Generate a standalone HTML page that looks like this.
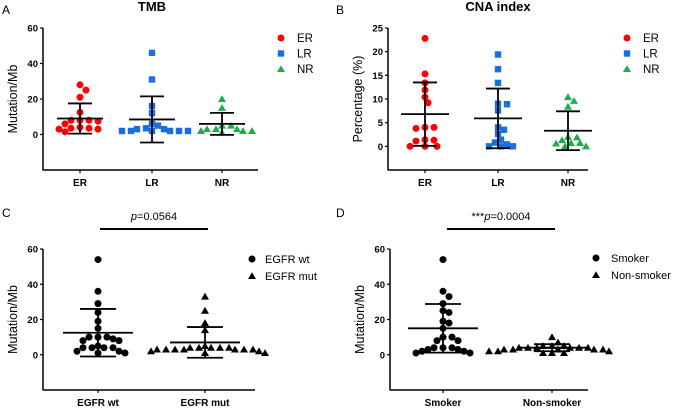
<!DOCTYPE html>
<html><head><meta charset="utf-8">
<style>
html,body{margin:0;padding:0;background:#fff;}
svg{display:block;font-family:"Liberation Sans",sans-serif;}
</style></head>
<body>
<svg id="fig" width="675" height="408" viewBox="0 0 675 408"></svg>
<script>
// Panel A: TMB
const aCategories=["ER","LR","NR"];
const aER=[28,25,21,12.5,8,7.5,8,8,4,3,3,3.5,6,1.5,3.5];
const aLR=[46,31,16,12,2,2,3,2,5,3,2,2,2,3.5,6];
const aNR=[20,15,3,3,2,2,1,2,5,3,5];
const aMeans=[9,8.5,6];
const aSD=[8.5,13,6.2];
const aTicks=[0,20,40,60];
// Panel B: CNA index
const bCategories=["ER","LR","NR"];
const bER=[22.8,15.3,13.4,11.9,10.4,9.2,4,3.8,4,1.3,0,0,0,1.1,1.4];
const bLR=[19.4,16.3,13.4,9,8.9,7.6,3.5,4,2.6,0.8,0,0,0,0.4,1.4];
const bNR=[10.4,9.6,8.4,2,1.9,0.7,0.6,0,0,0.7,1.3];
const bMeans=[6.8,5.9,3.3];
const bSD=[6.7,6.3,4.1];
const bTicks=[0,5,10,15,20,25];
// Panel C: EGFR
const cCategories=["EGFR wt","EGFR mut"];
const cWT=[54,36,29,24,19,15,10,9,8,8,10,10,4,4,2,2,1,1,4,4,5];
const cMUT=[33,25,18,14,5,4,4,4,3,3,3,3,2,2,1,1,3,3,3,4,4];
const cMeans=[12.5,7];
const cSD=[13.5,8.7];
const cTicks=[0,20,40,60];
// Panel D: Smoking
const dCategories=["Smoker","Non-smoker"];
const dSMK=[54,36,33,29,24,25,19,18,15,10,10,8,8,4,4,3,3,2,2,1,1,4];
const dNON=[10,7,5,5,4,4,4,4,3,3,3,2,2,2,1,1,1,3,3,4,4,5];
const dMeans=[15,4];
const dSD=[13.8,2];
const dTicks=[0,20,40,60];

const NS="http://www.w3.org/2000/svg";
const svg=document.getElementById('fig');
function mk(tag,attrs,parent,text){const e=document.createElementNS(NS,tag);for(const k in attrs)e.setAttribute(k,attrs[k]);if(text!==undefined)e.textContent=text;(parent||svg).appendChild(e);return e;}

function marker(g,shape,x,y,color){
  let e;
  if(shape==='circle'){e=mk('circle',{cx:x,cy:y,r:3.5,fill:color},g);}
  else if(shape==='square'){e=mk('rect',{x:x-3.2,y:y-3.2,width:6.4,height:6.4,fill:color},g);}
  else {e=mk('polygon',{points:`${x},${y-3.8} ${x+4},${y+3} ${x-4},${y+3}`,fill:color},g);}
  return e;
}

function swarm(vals,yf,cx,shape,color,g){
  const placed=[];
  const sorted=vals.slice().sort((a,b)=>b-a);
  const cands=[0];
  for(let k=1;k<40;k++){cands.push(k*3);cands.push(-k*3);}
  sorted.forEach(v=>{
    const y=yf(v);
    let dx=0;
    for(const c of cands){
      if(placed.every(p=>Math.hypot(p[0]-c,p[1]-y)>=6.2)){dx=c;break;}
    }
    placed.push([dx,y]);
    const m=marker(g,shape,cx+dx,y,color);
    
    
  });
}

function panel(o){
  const g=mk('g',{});
  const yf=v=>o.y0-(v-o.min)/(o.max-o.min)*(o.y0-o.yTop);
  const ya=mk('line',{x1:o.ax,y1:yf(o.max),x2:o.ax,y2:o.y0+0.5,stroke:'#000','stroke-width':1.5},g);
  
  const xa=mk('line',{x1:o.ax,y1:o.y0,x2:o.axEnd,y2:o.y0,stroke:'#000','stroke-width':1.5},g);
  
  o.ticks.forEach(t=>{
    const y=yf(t);
    mk('line',{x1:o.ax-3,y1:y,x2:o.ax,y2:y,stroke:'#000','stroke-width':1.2},g);
    const tl=mk('text',{x:o.ax-5,y:y+3.5,'text-anchor':'end','font-size':9.5,'font-weight':'bold'},g,t);
    
  });
  const yc=(yf(o.max)+o.y0)/2;
  const yt=mk('text',{x:0,y:0,transform:`translate(${o.ax-o.titleOff},${yc}) rotate(-90)`,'text-anchor':'middle','font-size':12.5},g,o.ytitle);
  
  o.cats.forEach((c,i)=>{
    const x=o.cx[i];
    mk('line',{x1:x,y1:o.y0,x2:x,y2:o.y0+3,stroke:'#000','stroke-width':1.2},g);
    const cl=mk('text',{x:x,y:o.y0+16,'text-anchor':'middle','font-size':10,'font-weight':'bold'},g,c);
    
    swarm(o.series[i],yf,x,o.shapes[i],o.colors[i],g);
    const m=o.means[i],s=o.sds[i];
    const eb=mk('g',{},g);
    
    mk('line',{x1:x-o.mw,y1:yf(m),x2:x+o.mw,y2:yf(m),stroke:'#000','stroke-width':1.8},eb);
    mk('line',{x1:x,y1:yf(m-s),x2:x,y2:yf(m+s),stroke:'#000','stroke-width':1.8},eb);
    mk('line',{x1:x-o.cw,y1:yf(m+s),x2:x+o.cw,y2:yf(m+s),stroke:'#000','stroke-width':1.8},eb);
    mk('line',{x1:x-o.cw,y1:yf(m-s),x2:x+o.cw,y2:yf(m-s),stroke:'#000','stroke-width':1.8},eb);
  });
  o.cats.forEach((c,i)=>{
    const y=o.legY+i*o.legStep;
    const lg=mk('g',{},g);
    
    marker(lg,o.shapes[i],o.legX,y,o.colors[i]);
    mk('text',{x:o.legX+o.legTx,y:y+4,'font-size':o.legFs||11.5},lg,c);
  });
  const pl=mk('text',{x:o.letterX,y:o.letterY,'font-size':12},g,o.letter);
  
  if(o.title){const t=mk('text',{x:o.titleX,y:11,'text-anchor':'middle','font-size':13,'font-weight':'bold'},g,o.title);}
  if(o.pText){
    const pg=mk('g',{},g);
    mk('line',{x1:o.pX1,y1:229,x2:o.pX2,y2:229,stroke:'#000','stroke-width':2},pg);
    const t=mk('text',{x:(o.pX1+o.pX2)/2,y:220,'text-anchor':'middle','font-size':11},pg);
    mk('tspan',{},t,o.pStars||'');
    mk('tspan',{'font-style':'italic'},t,'p');
    mk('tspan',{},t,o.pText);
  }
}

panel({name:'panel-a-tmb',letter:'A',letterX:2,letterY:14,title:'TMB',titleX:152,ax:43,axEnd:258,y0:170,yTop:28,min:-20,max:60,ticks:aTicks,ytitle:'Mutation/Mb',titleOff:26,
  cats:aCategories,cx:[80,152,222],series:[aER,aLR,aNR],means:aMeans,sds:aSD,shapes:['circle','square','tri'],colors:['#ff0000','#1a6fdf','#17b04a'],mw:23,cw:12,legX:281,legY:38,legStep:15.5,legTx:16});
panel({name:'panel-b-cna',letter:'B',letterX:336,letterY:14,title:'CNA index',titleX:498,ax:388,axEnd:588,y0:170,yTop:28,min:-5,max:25,ticks:bTicks,ytitle:'Percentage (%)',titleOff:26,
  cats:bCategories,cx:[425,498,568],series:[bER,bLR,bNR],means:bMeans,sds:bSD,shapes:['circle','square','tri'],colors:['#ff0000','#1a6fdf','#17b04a'],mw:24,cw:12,legX:627,legY:38,legStep:15.5,legTx:16});
panel({name:'panel-c-egfr',letter:'C',letterX:2,letterY:217,ax:43,axEnd:255,y0:390,yTop:249,min:-20,max:60,ticks:cTicks,ytitle:'Mutation/Mb',titleOff:26,
  cats:cCategories,cx:[98,205],series:[cWT,cMUT],means:cMeans,sds:cSD,shapes:['circle','tri'],colors:['#000','#000'],mw:35,cw:18,legX:252,legY:259,legStep:17,legTx:13,legFs:11,
  pText:'=0.0564',pX1:100,pX2:208});
panel({name:'panel-d-smoking',letter:'D',letterX:336,letterY:217,ax:390,axEnd:588,y0:390,yTop:249,min:-20,max:60,ticks:dTicks,ytitle:'Mutation/Mb',titleOff:26,
  cats:dCategories,cx:[443,552],series:[dSMK,dNON],means:dMeans,sds:dSD,shapes:['circle','tri'],colors:['#000','#000'],mw:35,cw:18,legX:596,legY:258,legStep:17,legTx:15,legFs:11,
  pText:'=0.0004',pStars:'***',pX1:447,pX2:555});
</script>
</body></html>
